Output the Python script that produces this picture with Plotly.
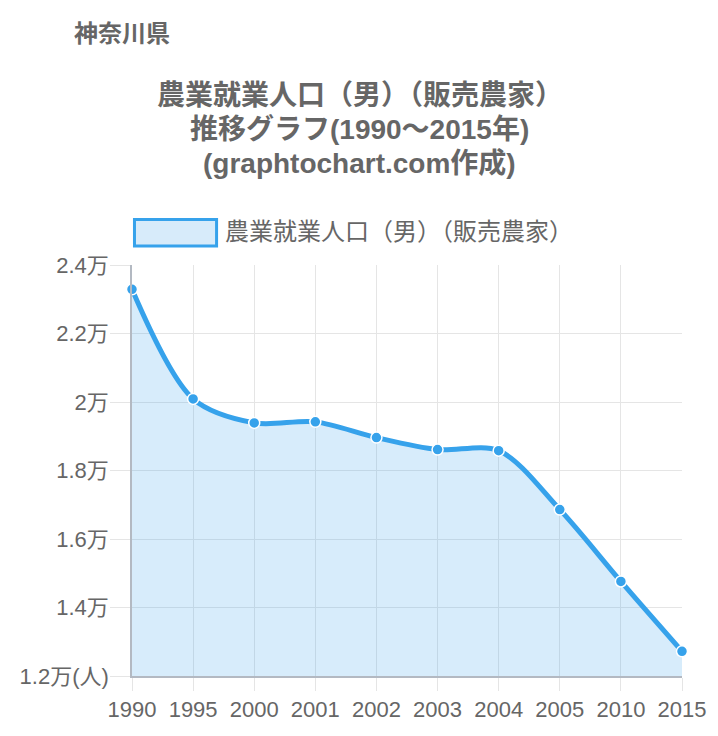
import plotly.graph_objects as go

years = ["1990", "1995", "2000", "2001", "2002", "2003", "2004", "2005", "2010", "2015"]
values = [23290, 20090, 19390, 19420, 18960, 18610, 18580, 16860, 14760, 12720]
ytick_vals = [12000, 14000, 16000, 18000, 20000, 22000, 24000]
ytick_text = ["1.2万(人)", "1.4万", "1.6万", "1.8万", "2万", "2.2万", "2.4万"]
series_name = "農業就業人口（男）（販売農家）"
pref_name = "神奈川県"
title_lines = ["農業就業人口（男）（販売農家）", "推移グラフ(1990～2015年)", "(graphtochart.com作成)"]

FONT = "Liberation Sans, Arial, Noto Sans CJK JP"
GRAY = "#666666"
BLUE = "#36a2eb"
FILL = "rgba(54,162,235,0.2)"
GRID = "#e5e5e5"

# page has an 8px body margin; compensate so the plot lands where the reference has it
OFF = 8
PAGE_W, PAGE_H = 718, 736
W, H = PAGE_W - OFF, PAGE_H - OFF
PL, PR, PT, PB = 129, 685, 265, 676  # plot area in page pixels
ML, MT = PL - OFF, PT - OFF
MR = OFF + W - PR
MB = OFF + H - PB
PW, PH = PR - PL, PB - PT


def px_x(x):
    return (x - PL) / PW


def px_y(y):
    return (PB - y) / PH


fig = go.Figure()
fig.add_trace(go.Scatter(
    x=years, y=values, name=series_name,
    mode="lines+markers",
    line=dict(color=BLUE, width=5, shape="spline", smoothing=0.9),
    marker=dict(size=11, color=BLUE, line=dict(color="white", width=1.5)),
    fill="tozeroy", fillcolor=FILL,
    cliponaxis=False, showlegend=False,
))

annotations = [
    dict(text=pref_name, xref="paper", yref="paper",
         x=px_x(68), y=px_y(33), xanchor="left", yanchor="middle",
         showarrow=False,
         font=dict(family=FONT, size=24, color=GRAY, weight="bold")),
    dict(text=series_name, xref="paper", yref="paper",
         x=px_x(221), y=px_y(231), xanchor="left", yanchor="middle",
         showarrow=False,
         font=dict(family=FONT, size=24, color=GRAY)),
]
for txt, yc in zip(title_lines, [95, 129, 163]):
    annotations.append(dict(
        text=txt, xref="paper", yref="paper",
        x=px_x(359), y=px_y(yc), xanchor="center", yanchor="middle",
        showarrow=False,
        font=dict(family=FONT, size=28, color=GRAY, weight="bold")))

fig.update_layout(
    width=W, height=H,
    margin=dict(l=ML, r=MR, t=MT, b=MB, pad=0),
    paper_bgcolor="white", plot_bgcolor="white",
    font=dict(family=FONT, color=GRAY, size=22),
    xaxis=dict(
        type="category", range=[0, 9],
        showgrid=True, gridcolor=GRID, gridwidth=1,
        showline=True, linecolor="#b3b9c2", linewidth=1.5,
        ticks="outside", ticklen=13, tickcolor=GRID,
        tickfont=dict(size=22, color=GRAY, family=FONT),
        zeroline=False, fixedrange=True,
    ),
    yaxis=dict(
        range=[12000, 24000],
        tickvals=ytick_vals, ticktext=ytick_text,
        showgrid=True, gridcolor=GRID, gridwidth=1,
        showline=True, linecolor="#b3b9c2", linewidth=1.5,
        ticks="outside", ticklen=20, tickcolor=GRID,
        ticklabelstandoff=-3,
        tickfont=dict(size=22, color=GRAY, family=FONT),
        zeroline=False, fixedrange=True,
    ),
    shapes=[dict(
        type="rect", xref="paper", yref="paper",
        x0=px_x(131.5), x1=px_x(214.5), y0=px_y(246), y1=px_y(219.5),
        line=dict(color=BLUE, width=3), fillcolor="#d7ebfa",
    )],
    annotations=annotations,
)

fig.write_html("out.html")
